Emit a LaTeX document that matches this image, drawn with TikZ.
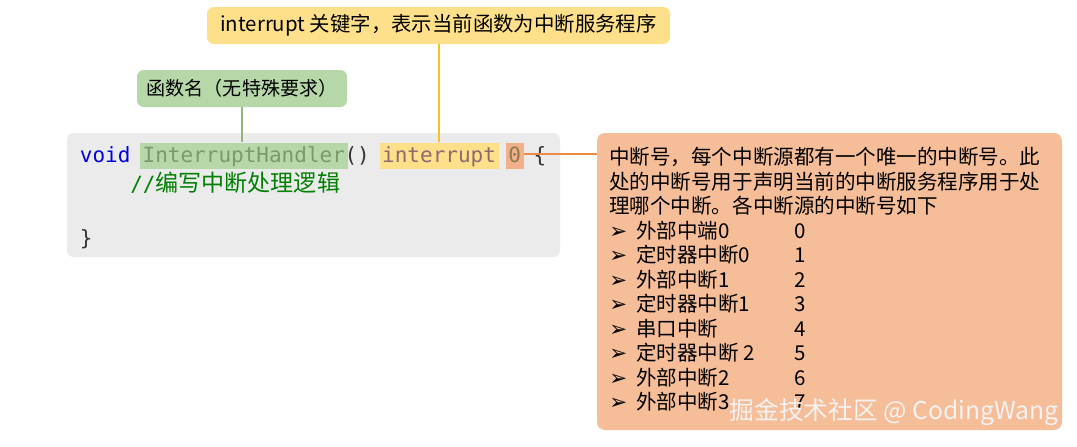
\documentclass[tikz,border=0pt]{standalone}
\usepackage{fontspec}
\setmainfont{Noto Sans CJK SC}
\newfontfamily\codefont{DejaVu Sans Mono}
\newfontfamily\cjk{Noto Sans CJK SC}
\newfontfamily\dejavu{DejaVu Sans}
\definecolor{labyellow}{HTML}{FFE08A}
\definecolor{labgreen}{HTML}{B6D7A8}
\definecolor{codebg}{HTML}{EBEBEB}
\definecolor{boxorange}{HTML}{F6BE98}
\definecolor{lineorange}{HTML}{F0884A}
\definecolor{lineyellow}{HTML}{F5C226}
\definecolor{linegreen}{HTML}{8DB878}
\definecolor{hlorange}{HTML}{EFB08A}
\definecolor{voidblue}{HTML}{0000E0}
\definecolor{fntext}{HTML}{7A9A6A}
\definecolor{kwtext}{HTML}{8C6A6E}
\definecolor{numtext}{HTML}{8C7A50}
\definecolor{codegray}{HTML}{333333}
\definecolor{cmtgreen}{HTML}{008000}
\definecolor{wmcolor}{HTML}{F2F2F2}
\tikzset{
  lab/.style={rounded corners=5pt, inner sep=0pt, text=black},
  code/.style={font=\codefont\fontsize{15.75pt}{18pt}\selectfont, inner sep=0pt, anchor=base},
  hl/.style={code, inner xsep=2pt, inner ysep=0pt, text height=14.5pt, text depth=5.5pt},
  conn/.style={line width=1.3pt},
}
\newcommand{\itm}[2]{\makebox[20.25pt][l]{\dejavu\fontsize{16pt}{12pt}\selectfont ➢}\makebox[118.5pt][l]{#1}#2}
\begin{document}
\begin{tikzpicture}[x=0.75pt,y=-0.75pt]
\useasboundingbox (0,0) rectangle (1077,446);
% boxes
\node[lab, fill=labyellow, minimum width=347.25pt, minimum height=27.75pt,
      font=\fontsize{15.3pt}{18pt}\selectfont] (ylab) at (438.5,25.5)
      {interrupt 关键字，表示当前函数为中断服务程序};
\node[lab, fill=labgreen, minimum width=157.5pt, minimum height=27.75pt,
      font=\fontsize{14.3pt}{18pt}\selectfont] (glab) at (242,88.5)
      {函数名（无特殊要求）};
\node[rounded corners=5pt, fill=codebg, minimum width=369.75pt, minimum height=93pt, inner sep=0pt] (code) at (313.5,195) {};
\node[rounded corners=6pt, fill=boxorange, minimum width=348.75pt, minimum height=222.75pt, inner sep=0pt] (obox) at (829.5,281.5) {};
% code line 1
\node[code, text=voidblue] (void) at (105.2,162) {void};
\node[hl, fill=labgreen, text=fntext] (fn) at (243.8,162) {InterruptHandler};
\node[code, text=codegray] (paren) at (357.2,162) {()};
\node[hl, fill=labyellow, text=kwtext] (kw) at (439.1,162) {interrupt};
\node[hl, fill=hlorange, text=numtext] (num) at (514.7,162) {0};
\node[code, text=codegray] (open) at (539.9,162) {\{};
% comment
\node[anchor=base west, inner sep=0pt, text=cmtgreen] (cmt) at (130,191)
  {{\codefont\fontsize{15.75pt}{18pt}\selectfont //}{\cjk\fontsize{17.3pt}{20pt}\selectfont 编写中断处理逻辑}};
\node[code, text=codegray] (close) at (86.3,245) {\}};
% connectors
\draw[conn, draw=lineyellow] (kw.north) -- (kw.north |- ylab.south);
\draw[conn, draw=linegreen] (glab.south) -- (glab.south |- fn.north);
\draw[conn, draw=lineorange] ([yshift=1.5pt]num.east) -- ([yshift=1.5pt]num.east -| obox.west);
% orange box text
\node[anchor=north west, inner sep=0pt, align=left, text=black,
      font=\fontsize{15.4pt}{18.4pt}\selectfont] (otext) at (609,147)
 {中断号，每个中断源都有一个唯一的中断号。此\\
  处的中断号用于声明当前的中断服务程序用于处\\
  理哪个中断。各中断源的中断号如下\\
  \itm{外部中端0}{0}\\
  \itm{定时器中断0}{1}\\
  \itm{外部中断1}{2}\\
  \itm{定时器中断1}{3}\\
  \itm{串口中断}{4}\\
  \itm{定时器中断 2}{5}\\
  \itm{外部中断2}{6}\\
  \itm{外部中断3}{7}};
% watermark
\node[inner sep=0pt, text=wmcolor, font=\fontsize{18.5pt}{20pt}\selectfont] (wm) at (894,412)
  {掘金技术社区 @ CodingWang};
\end{tikzpicture}
\end{document}
